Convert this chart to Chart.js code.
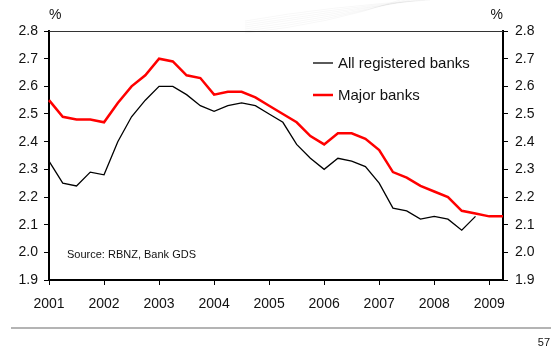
<!DOCTYPE html>
<html>
<head>
<meta charset="utf-8">
<script src="https://cdn.jsdelivr.net/npm/chart.js@4/dist/chart.umd.min.js"></script>
<style>
  html, body { margin: 0; padding: 0; background: #fff; }
  #wrap { width: 555px; height: 349px; }
</style>
</head>
<body>
<div id="wrap"><canvas id="chart" width="555" height="349"></canvas></div>
<script>
const QUARTERS = [
  "2001 Q1", "2001 Q2", "2001 Q3", "2001 Q4",
  "2002 Q1", "2002 Q2", "2002 Q3", "2002 Q4",
  "2003 Q1", "2003 Q2", "2003 Q3", "2003 Q4",
  "2004 Q1", "2004 Q2", "2004 Q3", "2004 Q4",
  "2005 Q1", "2005 Q2", "2005 Q3", "2005 Q4",
  "2006 Q1", "2006 Q2", "2006 Q3", "2006 Q4",
  "2007 Q1", "2007 Q2", "2007 Q3", "2007 Q4",
  "2008 Q1", "2008 Q2", "2008 Q3", "2008 Q4",
  "2009 Q1", "2009 Q2",
];

const ALL_BANKS = [
  2.33, 2.25, 2.24, 2.29, 2.28, 2.40, 2.49, 2.55,
  2.60, 2.60, 2.57, 2.53, 2.51, 2.53, 2.54, 2.53,
  2.50, 2.47, 2.39, 2.34, 2.30, 2.34, 2.33, 2.31,
  2.25, 2.16, 2.15, 2.12, 2.13, 2.12, 2.08, 2.13,
  null, null,
];

const MAJOR_BANKS = [
  2.55, 2.49, 2.48, 2.48, 2.47, 2.54, 2.60, 2.64,
  2.70, 2.69, 2.64, 2.63, 2.57, 2.58, 2.58, 2.56,
  2.53, 2.50, 2.47, 2.42, 2.39, 2.43, 2.43, 2.41,
  2.37, 2.29, 2.27, 2.24, 2.22, 2.20, 2.15, 2.14,
  2.13, 2.13,
];

const SERIES_LABELS = ["All registered banks", "Major banks"];
const SERIES_COLORS = ["#000000", "#ff0000"];
const Y_MIN = 1.9;
const Y_MAX = 2.8;
const Y_STEP = 0.1;
const UNIT_LABEL = "%";
const SOURCE_NOTE = "Source: RBNZ, Bank GDS";
const PAGE_NUMBER = "57";

const FONT = '"Liberation Sans", Arial, sans-serif';
const isYearTick = i => QUARTERS[i] && QUARTERS[i].endsWith("Q1");

// extra bits drawn on the canvas: frame top, % units, legend, source, footer
const decor = {
  id: "decor",
  beforeDraw(chart) {
    const ctx = chart.ctx;
    ctx.save();
    // faint swoosh in the top corner of the slide
    ctx.strokeStyle = "rgba(0,0,0,0.03)";
    ctx.lineWidth = 1;
    for (let k = 0; k < 7; k++) {
      ctx.beginPath();
      ctx.moveTo(245, 33 - k * 2);
      ctx.quadraticCurveTo(330, 24 - k * 3, 400 + k * 5, 0);
      ctx.stroke();
    }
    ctx.restore();
  },
  afterDraw(chart) {
    const ctx = chart.ctx;
    const ca = chart.chartArea;
    ctx.save();

    ctx.strokeStyle = "#333";
    ctx.lineWidth = 1;
    ctx.beginPath();
    ctx.moveTo(ca.left, ca.top + 0.5);
    ctx.lineTo(ca.right, ca.top + 0.5);
    ctx.stroke();

    ctx.fillStyle = "#111";
    ctx.font = `14px ${FONT}`;
    ctx.textBaseline = "middle";
    ctx.textAlign = "left";
    ctx.fillText(UNIT_LABEL, ca.left, ca.top - 16);
    ctx.textAlign = "right";
    ctx.fillText(UNIT_LABEL, ca.right, ca.top - 16);

    ctx.font = `15px ${FONT}`;
    ctx.textAlign = "left";
    SERIES_LABELS.forEach((label, i) => {
      const y = ca.top + 32 + i * 32;
      ctx.strokeStyle = SERIES_COLORS[i];
      ctx.lineWidth = i === 0 ? 1.3 : 2.5;
      ctx.beginPath();
      ctx.moveTo(ca.left + 264, y);
      ctx.lineTo(ca.left + 284, y);
      ctx.stroke();
      ctx.fillStyle = "#111";
      ctx.fillText(label, ca.left + 289, y + 1);
    });

    ctx.font = `11px ${FONT}`;
    ctx.fillText(SOURCE_NOTE, ca.left + 18, ca.bottom - 25);

    ctx.strokeStyle = "#b4b4b4";
    ctx.lineWidth = 2;
    ctx.beginPath();
    ctx.moveTo(11, 328);
    ctx.lineTo(551, 328);
    ctx.stroke();

    ctx.textAlign = "right";
    ctx.fillText(PAGE_NUMBER, 550, 343);
    ctx.restore();
  },
};

const tickFont = { family: FONT, size: 14 };

new Chart(document.getElementById("chart"), {
  type: "line",
  data: {
    labels: QUARTERS,
    datasets: [
      {
        label: SERIES_LABELS[0],
        data: ALL_BANKS,
        borderColor: SERIES_COLORS[0],
        borderWidth: 1.3,
        pointRadius: 0,
        tension: 0,
        spanGaps: false,
      },
      {
        label: SERIES_LABELS[1],
        data: MAJOR_BANKS,
        borderColor: SERIES_COLORS[1],
        borderWidth: 2.5,
        pointRadius: 0,
        tension: 0,
      },
    ],
  },
  options: {
    responsive: false,
    animation: false,
    devicePixelRatio: 1,
    layout: { padding: { top: 31, left: 0, right: 0, bottom: 0 } },
    plugins: {
      legend: { display: false },
      tooltip: { enabled: false },
    },
    scales: {
      x: {
        type: "category",
        offset: false,
        afterFit: s => { s.height = 69; },
        border: { color: "#000", width: 2 },
        grid: {
          drawOnChartArea: false,
          tickLength: 5,
          tickColor: c => isYearTick(c.index) ? "#000" : "rgba(0,0,0,0)",
        },
        ticks: {
          autoSkip: false,
          maxRotation: 0,
          padding: 11,
          color: "#111",
          font: tickFont,
          callback: (v, i) => isYearTick(i) ? QUARTERS[i].slice(0, 4) : "",
        },
      },
      y: {
        position: "left",
        min: Y_MIN,
        max: Y_MAX,
        afterFit: s => { s.width = 49; },
        border: { color: "#000", width: 2 },
        grid: { drawOnChartArea: false, tickLength: 5, tickColor: "#000" },
        ticks: {
          stepSize: Y_STEP,
          padding: 6,
          color: "#111",
          font: tickFont,
          callback: v => v.toFixed(1),
        },
      },
      y2: {
        position: "right",
        min: Y_MIN,
        max: Y_MAX,
        afterFit: s => { s.width = 52; },
        border: { color: "#000", width: 2 },
        grid: { drawOnChartArea: false, tickLength: 5, tickColor: "#000" },
        ticks: {
          stepSize: Y_STEP,
          padding: 7,
          color: "#111",
          font: tickFont,
          callback: v => v.toFixed(1),
        },
      },
    },
  },
  plugins: [decor],
});
</script>
</body>
</html>
